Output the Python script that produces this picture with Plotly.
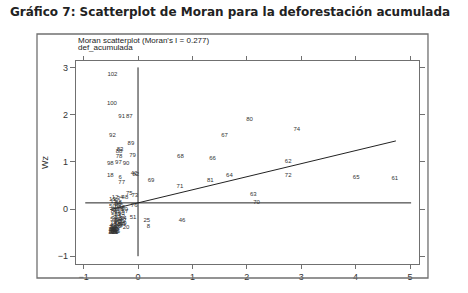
import plotly.graph_objects as go

# ---- data ----
ids = [102, 100, 91, 87, 92, 89, 83, 88, 78, 79, 98, 97, 90, 18, 6, 77, 82, 42,
       69, 68, 66, 67, 80, 74, 62, 81, 64, 71, 72, 65, 61, 63, 70, 46, 25, 8,
       75, 73, 76, 51, 20,
       12, 3, 4, 48, 13, 15, 38, 9, 50, 10, 44, 55, 60, 58, 52, 53, 1, 2, 34, 59,
       5, 7, 11, 14, 16, 17, 19, 21, 22, 23, 24, 26, 27, 28, 29, 30, 31, 32, 33,
       35, 36, 37, 39, 40, 41, 43, 45, 47, 49, 54, 56, 57, 84, 85, 86, 93, 94,
       95, 96, 99, 101]
z = [-0.47, -0.48, -0.30, -0.16, -0.47, -0.13, -0.33, -0.35, -0.35, -0.10, -0.51, -0.36, -0.22, -0.51, -0.33, -0.30, -0.04, -0.07,
     0.24, 0.78, 1.37, 1.59, 2.05, 2.92, 2.76, 1.33, 1.68, 0.77, 2.76, 4.01, 4.72, 2.12, 2.18, 0.81, 0.16, 0.19,
     -0.16, -0.06, -0.07, -0.09, -0.22,
     -0.42, -0.36, -0.30, -0.24, -0.47, -0.45, -0.36, -0.40, -0.47, -0.38, -0.30, -0.43, -0.25, -0.33, -0.37, -0.30, -0.41, -0.33, -0.27, -0.45,
     -0.40, -0.35, -0.30, -0.45, -0.38, -0.32, -0.27, -0.42, -0.36, -0.47, -0.40, -0.44, -0.48, -0.45, -0.42, -0.47, -0.43, -0.46, -0.41,
     -0.45, -0.48, -0.44, -0.35, -0.31, -0.39, -0.28, -0.34, -0.46, -0.38, -0.29, -0.43, -0.24, -0.37, -0.33, -0.44, -0.41, -0.45,
     -0.39, -0.47, -0.43, -0.46]
wz = [2.86, 2.24, 1.96, 1.97, 1.55, 1.38, 1.26, 1.22, 1.11, 1.13, 0.97, 0.98, 0.97, 0.71, 0.66, 0.56, 0.73, 0.75,
      0.60, 1.11, 1.07, 1.55, 1.89, 1.69, 1.00, 0.61, 0.71, 0.47, 0.71, 0.67, 0.64, 0.30, 0.14, -0.24, -0.24, -0.37,
      0.32, 0.28, 0.07, -0.18, -0.39,
      0.24, 0.22, 0.24, 0.25, 0.20, 0.15, 0.14, 0.10, 0.05, 0.04, 0.03, 0.00, -0.01, -0.02, -0.12, -0.15, -0.18, -0.20, -0.20, -0.22,
      -0.25, -0.27, -0.26, -0.30, -0.32, -0.33, -0.30, -0.37, -0.38, -0.40, -0.42, -0.45, -0.47, -0.48, -0.50, -0.50, -0.47, -0.43, -0.45,
      -0.49, -0.44, -0.41, -0.22, -0.10, -0.06, -0.24, -0.35, -0.35, -0.28, -0.32, -0.14, -0.05, 0.12, 0.07, -0.05, -0.25, -0.39,
      -0.48, -0.46, -0.43, -0.49]

moran_i = 0.277
wz_mean = 0.13
fit_x = [-0.51, 4.74]
hline_x = [-0.97, 5.02]
vline_y = [-1.0, 3.0]
x_ticks = [-1, 0, 1, 2, 3, 4, 5]
y_ticks = [-1, 0, 1, 2, 3]

fig = go.Figure()

line_col = "#222222"
# reference lines
fig.add_trace(go.Scatter(x=hline_x, y=[wz_mean, wz_mean], mode="lines",
                         line=dict(color=line_col, width=1), hoverinfo="skip"))
fig.add_trace(go.Scatter(x=[0, 0], y=vline_y, mode="lines",
                         line=dict(color=line_col, width=1), hoverinfo="skip"))
fig.add_trace(go.Scatter(x=fit_x, y=[wz_mean + moran_i * v for v in fit_x], mode="lines",
                         line=dict(color=line_col, width=1), hoverinfo="skip"))
# point labels
fig.add_trace(go.Scatter(x=z, y=wz, mode="text", text=[str(i) for i in ids],
                         textposition="middle center",
                         textfont=dict(family="Liberation Sans, Arial", size=6, color="#333333")))

ax_col = "#707070"
fig.update_layout(
    width=468, height=293,
    margin=dict(l=76, r=49, t=61, b=29),
    paper_bgcolor="white", plot_bgcolor="white",
    showlegend=False,
    font=dict(family="Liberation Sans, Arial", color="#333333"),
    xaxis=dict(range=[-1.14, 5.165], tickvals=x_ticks, ticks="outside", ticklen=4,
               tickcolor=ax_col, showline=True, linecolor=ax_col, linewidth=1.3,
               mirror="allticks", showgrid=False, zeroline=False,
               tickfont=dict(size=9, color="#333333")),
    yaxis=dict(range=[-1.165, 3.136], tickvals=y_ticks, ticks="outside", ticklen=5,
               tickcolor=ax_col, showline=True, linecolor=ax_col, linewidth=1.3,
               mirror="allticks", showgrid=False, zeroline=False,
               tickfont=dict(size=9, color="#333333")),
)

# outer frame
fig.add_shape(type="rect", xref="paper", yref="paper",
              x0=-0.1137, x1=1.0262, y0=-0.069, y1=1.133,
              line=dict(color=ax_col, width=1.3))

fig.add_annotation(text="<b>Gráfico 7: Scatterplot de Moran para la deforestación acumulada</b>",
                   xref="paper", yref="paper", x=0.449, y=1.241, xanchor="center", yanchor="middle",
                   showarrow=False, font=dict(family="DejaVu Sans", size=12, color="#222222"))
fig.add_annotation(text="Moran scatterplot (Moran's I = 0.277)",
                   xref="paper", yref="paper", x=0.0, y=1.10, xanchor="left", yanchor="middle",
                   showarrow=False, font=dict(size=8, color="#222222"))
fig.add_annotation(text="def_acumulada",
                   xref="paper", yref="paper", x=0.0, y=1.068, xanchor="left", yanchor="middle",
                   showarrow=False, font=dict(size=8, color="#222222"))
fig.add_annotation(text="Wz", textangle=-90,
                   xref="paper", yref="paper", x=-0.0904, y=0.502, xanchor="center", yanchor="middle",
                   showarrow=False, font=dict(size=9, color="#333333"))

fig.write_html("out.html", config={"displayModeBar": False},
               post_script="document.body.style.margin='0px';")
